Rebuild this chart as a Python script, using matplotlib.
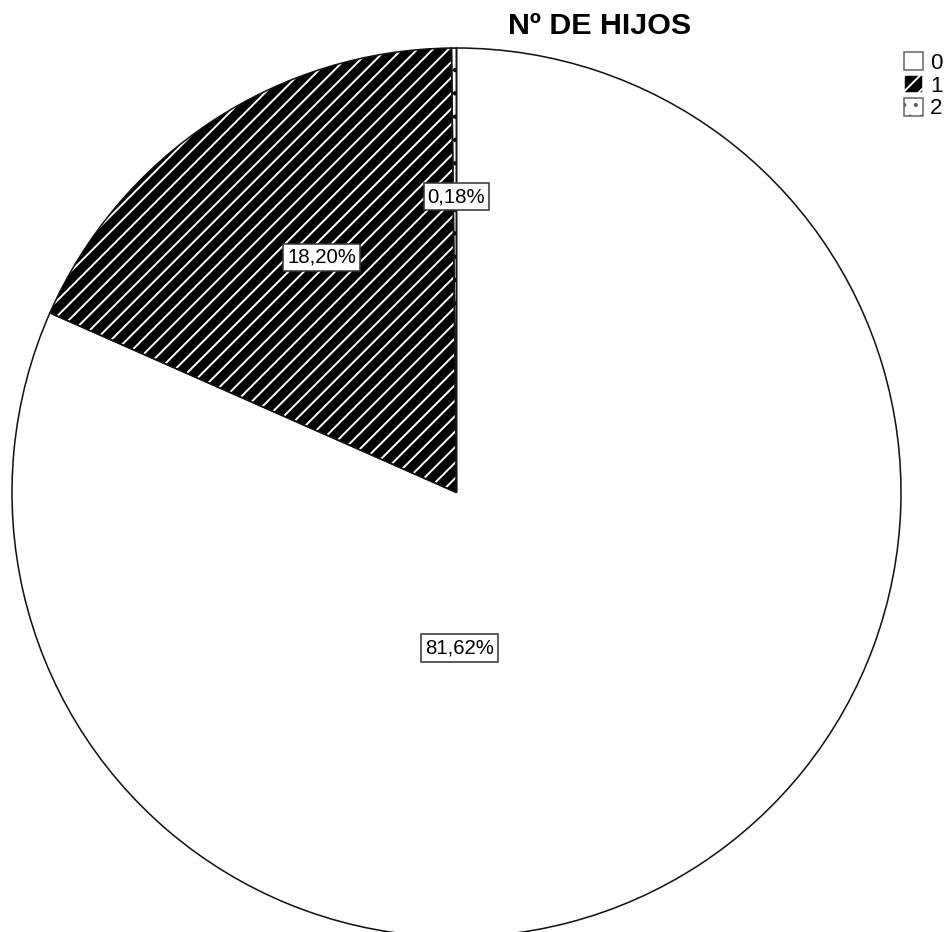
import matplotlib
matplotlib.use("Agg")
import matplotlib.pyplot as plt
from matplotlib.patches import Patch
import numpy as np

# data
categories = ["0", "1", "2"]
percents = [81.62, 18.20, 0.18]
# where SPSS put the labels (angle in degrees, distance as fraction of radius)
label_angles = [-89.0, 119.8, 90.0]
label_radii = [0.35, 0.61, 0.665]

W, H, DPI = 946, 932, 140
plt.rcParams['font.family'] = ['Liberation Sans', 'DejaVu Sans']
plt.rcParams['hatch.linewidth'] = 1.0


def fmt(p):
    return "{:.2f}%".format(p).replace('.', ',')


def main():
    fig = plt.figure(figsize=(W / DPI, H / DPI), dpi=DPI)
    fig.patch.set_facecolor('white')
    ax = fig.add_axes([12 / W, -5 / H, 889 / W, 889 / H])

    # filled wedges (hatch colour follows the edge colour)
    wedges, _, autotexts = ax.pie(percents, startangle=90, counterclock=False,
                                  radius=1, autopct=fmt,
                                  wedgeprops=dict(linewidth=0))
    wedges[0].set_facecolor('white')
    wedges[0].set_edgecolor('white')
    wedges[1].set_facecolor('black')
    wedges[1].set_edgecolor('white')
    wedges[1].set_hatch('///')
    wedges[2].set_facecolor('white')
    wedges[2].set_edgecolor('black')
    wedges[2].set_hatch('..')

    # black outline on top
    ax.pie(percents, startangle=90, counterclock=False, radius=1,
           wedgeprops=dict(fill=False, edgecolor='#111111', linewidth=0.8))

    for t, a, r in zip(autotexts, label_angles, label_radii):
        th = np.deg2rad(a)
        t.set_position((r * np.cos(th), r * np.sin(th)))
        t.set_fontsize(10.5)
        t.set_color('black')
        t.set_zorder(10)
        t.set_bbox(dict(boxstyle='square,pad=0.2', facecolor='white',
                        edgecolor='#333333', linewidth=0.8))

    ax.set_xlim(-1, 1)
    ax.set_ylim(-1, 1)
    ax.set_aspect('equal')
    ax.axis('off')

    fig.text(600 / W, 1 - 34 / H, "Nº DE HIJOS", ha='center', va='baseline',
             fontsize=15.6, fontweight='bold')

    handles = [
        Patch(facecolor='white', edgecolor='#666666', linewidth=0.8),
        Patch(facecolor='black', edgecolor='white', hatch='///', linewidth=0.8),
        Patch(facecolor='white', edgecolor='#666666', hatch='..', linewidth=0.8),
    ]
    fig.legend(handles, categories, loc='upper left',
               bbox_to_anchor=(904 / W, 1 - 52 / H), frameon=False,
               fontsize=11.5, handlelength=0.86, handleheight=0.86,
               handletextpad=0.3, labelspacing=0.05, borderpad=0,
               borderaxespad=0)

    fig.savefig("out.png", dpi=DPI)


if __name__ == '__main__':
    main()
